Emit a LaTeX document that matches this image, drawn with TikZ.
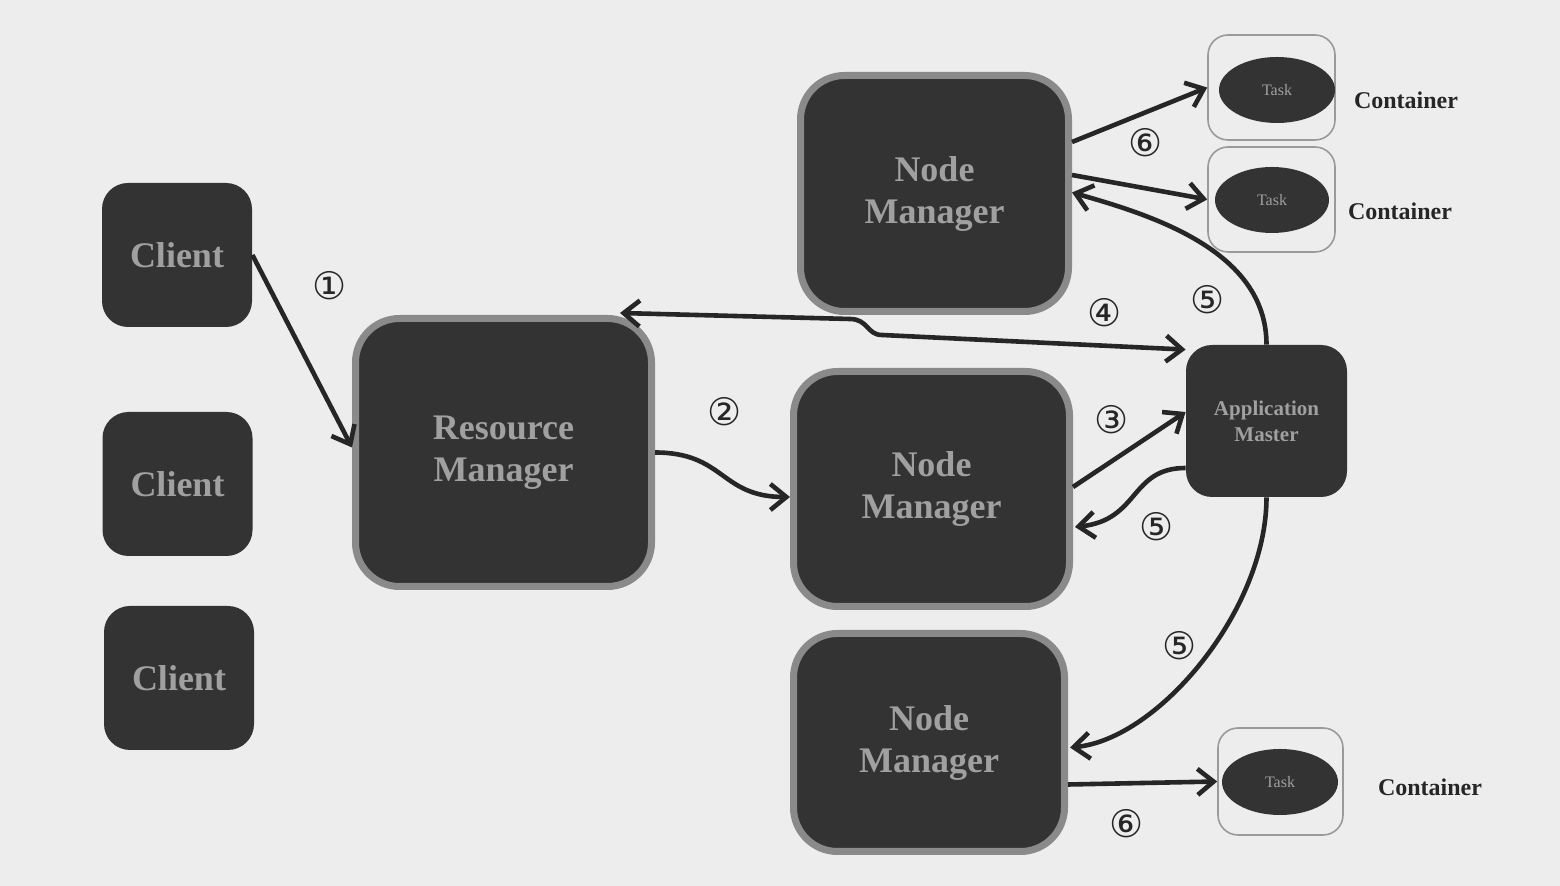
\documentclass[tikz,border=0pt]{standalone}
\usepackage{fontspec}
\setmainfont{Liberation Serif}
\newfontfamily\circfont{DejaVu Sans}
\usetikzlibrary{arrows.meta,calc,shapes.geometric}
\definecolor{bgcol}{HTML}{EDEDED}
\definecolor{boxfill}{HTML}{333333}
\definecolor{boxtext}{HTML}{A0A0A0}
\definecolor{halocol}{HTML}{8A8A8A}
\definecolor{arrcol}{HTML}{262626}
\definecolor{contcol}{HTML}{9A9A9A}
\begin{document}
\begin{tikzpicture}[x=0.5pt,y=-0.5pt,
  box/.style={fill=boxfill, text=boxtext, align=center, inner sep=0pt,
    font=\bfseries\fontsize{18}{21}\selectfont},
  clientbox/.style={box, rounded corners=13pt, minimum width=75pt, minimum height=72pt},
  halobox/.style={box, draw=halocol, line width=3.5pt, rounded corners=22pt},
  ambox/.style={box, rounded corners=13pt, minimum width=80.5pt, minimum height=76pt,
    font=\bfseries\fontsize{10.5}{13}\selectfont},
  contbox/.style={draw=contcol, line width=0.8pt, rounded corners=10pt,
    minimum width=63.5pt, minimum height=52.5pt, inner sep=0pt},
  taskell/.style={ellipse, fill=boxfill, text=boxtext, minimum width=58pt,
    minimum height=33pt, inner sep=0pt, font=\fontsize{8}{9}\selectfont},
  contlabel/.style={text=black!85, font=\bfseries\fontsize{12}{14}\selectfont},
  conn/.style={draw=arrcol, line width=2.3pt, -{Straight Barb[length=8pt,width=13pt]}},
  dconn/.style={draw=arrcol, line width=2.3pt,
    {Straight Barb[length=8pt,width=13pt]}-{Straight Barb[length=8pt,width=13pt]}},
  num/.style={text=black!85, font=\circfont\fontsize{19}{19}\selectfont, inner sep=0pt}
]
\fill[bgcol] (0,0) rectangle (1560,886);
\useasboundingbox (0,0) rectangle (1560,886);

% clients
\node[clientbox] (c1) at (177,255) {Client};
\node[clientbox] (c2) at (177.5,484) {Client};
\node[clientbox] (c3) at (179,678) {Client};

% managers
\node[halobox, minimum width=148pt, minimum height=134pt] (rm) at (503.5,452.5) {Resource\\Manager};
\node[halobox, minimum width=134pt, minimum height=118pt] (nmt) at (934.5,193.5) {Node\\Manager};
\node[halobox, minimum width=138pt, minimum height=117.5pt] (nmm) at (931.5,489) {Node\\Manager};
\node[halobox, minimum width=135.5pt, minimum height=109pt] (nmb) at (929,742.5) {Node\\Manager};

% application master
\node[ambox] (am) at (1266.5,421) {Application\\Master};

% containers
\node[contbox] (k1) at (1271.5,87.5) {};
\node[contbox] (k2) at (1271.5,199.5) {};
\node[contbox, minimum width=62.5pt, minimum height=53.5pt] (k3) at (1280.5,781.5) {};
\node[taskell] (t1) at (1277,90) {Task};
\node[taskell, minimum width=57pt] (t2) at (1272,200) {Task};
\node[taskell] (t3) at (1280,782) {Task};
\node[contlabel] (l1) at (1406,100) {Container};
\node[contlabel] (l2) at (1400,211) {Container};
\node[contlabel] (l3) at (1430,787) {Container};

% connectors
\draw[conn] (c1.east) -- ($(rm.west)+(0,-5)$);
\draw[conn] (rm.east) .. controls +(70,0) and +(-70,0) .. ($(nmm.west)+(0,8)$);
\draw[conn] ($(nmm.east)+(0,-2)$) -- ($(am.west)+(0,-9)$);
\draw[dconn] ($(rm.north east)+(-35,-2)$) -- ++(230,6)
   .. controls +(18,0) and +(-15,0) .. ++(32,16) -- ($(am.north west)+(0,5)$);
\draw[conn] ($(am.west)+(0,47)$) .. controls +(-56,0) and +(65,-7) .. ($(nmm.east)+(2,38)$);
\draw[conn] (am.north) .. controls +(0,-95) and +(77,22) .. ($(nmt.east)+(0,-1)$);
\draw[conn] (am.south) .. controls +(0,113) and +(88,-8) .. ($(nmb.east)+(2,5)$);
\draw[conn] ($(nmt.east)+(0,-51.5)$) -- (k1.west);
\draw[conn] ($(nmt.east)+(0,-18.5)$) -- (k2.west);
\draw[conn] ($(nmb.east)+(0,42)$) -- (k3.west);

% step numbers
\node[num] (n1) at (330,286) {①};
\node[num] (n2) at (725,412) {②};
\node[num] (n3) at (1112,420) {③};
\node[num] (n4) at (1105,313) {④};
\node[num] (n5a) at (1208,300) {⑤};
\node[num] (n5b) at (1157,527) {⑤};
\node[num] (n5c) at (1180,646) {⑤};
\node[num] (n6a) at (1146,143) {⑥};
\node[num] (n6b) at (1127,824) {⑥};
\end{tikzpicture}
\end{document}
